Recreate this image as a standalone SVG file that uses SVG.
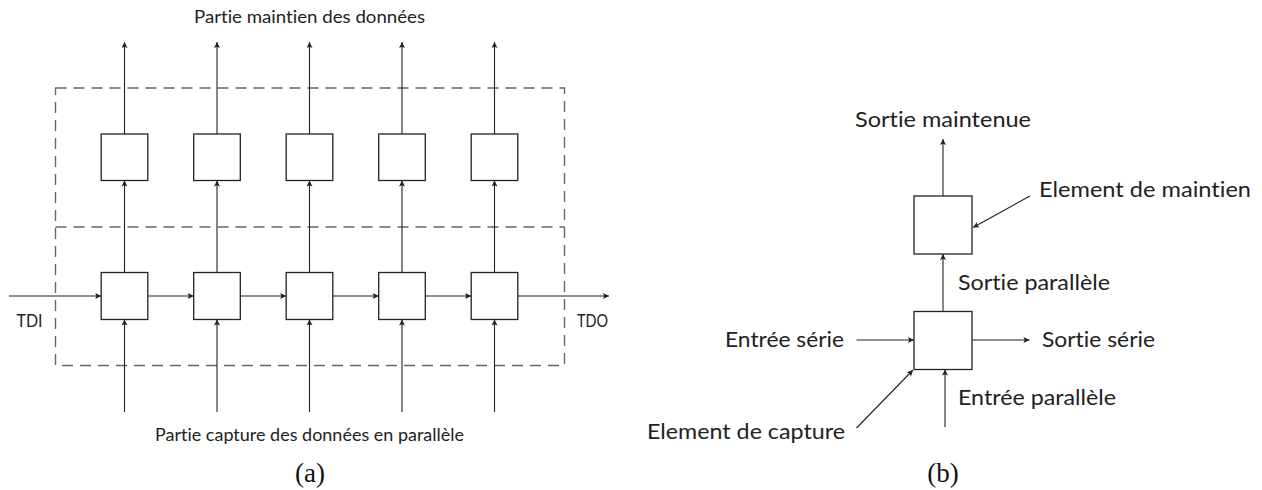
<svg xmlns="http://www.w3.org/2000/svg" width="1262" height="490" viewBox="0 0 1262 490">
<defs>
<marker id="ah" viewBox="0 0 10 10" refX="10" refY="5" markerWidth="7" markerHeight="6" markerUnits="userSpaceOnUse" orient="auto">
<path d="M0,0 L10,5 L0,10 L2,5 z" fill="#222"/>
</marker>
<style>
.box{fill:#fff;stroke:#222;stroke-width:1.3}
.ar{stroke:#222;stroke-width:1.1;fill:none;marker-end:url(#ah)}
.dash{stroke:#666;stroke-width:1.4;fill:none;stroke-dasharray:11,7}
.t{font-family:Lato,"Noto Sans","Liberation Sans",sans-serif;fill:#222;font-variant-ligatures:none;font-feature-settings:"liga" 0,"dlig" 0}
.s{font-size:17px}
.m{font-size:20.5px}
.cap{font-family:"Liberation Serif",serif;font-size:27px;font-weight:normal;fill:#111}
</style>
</defs>
<rect width="1262" height="490" fill="#fff"/>

<g id="frame-a">
<rect class="dash" x="55.5" y="88" width="509" height="277.5"/>
<line class="dash" x1="55.5" y1="227" x2="564.5" y2="227"/>
</g>

<g id="connectors">
<line class="ar" x1="124.5" y1="134" x2="124.5" y2="42"/>
<line class="ar" x1="217" y1="134" x2="217" y2="42"/>
<line class="ar" x1="309.5" y1="134" x2="309.5" y2="42"/>
<line class="ar" x1="402" y1="134" x2="402" y2="42"/>
<line class="ar" x1="494.5" y1="134" x2="494.5" y2="42"/>
<line class="ar" x1="124.5" y1="272.5" x2="124.5" y2="180.5"/>
<line class="ar" x1="217" y1="272.5" x2="217" y2="180.5"/>
<line class="ar" x1="309.5" y1="272.5" x2="309.5" y2="180.5"/>
<line class="ar" x1="402" y1="272.5" x2="402" y2="180.5"/>
<line class="ar" x1="494.5" y1="272.5" x2="494.5" y2="180.5"/>
<line class="ar" x1="124.5" y1="412" x2="124.5" y2="319.5"/>
<line class="ar" x1="217" y1="412" x2="217" y2="319.5"/>
<line class="ar" x1="309.5" y1="412" x2="309.5" y2="319.5"/>
<line class="ar" x1="402" y1="412" x2="402" y2="319.5"/>
<line class="ar" x1="494.5" y1="412" x2="494.5" y2="319.5"/>
<line class="ar" x1="9" y1="296" x2="101.2" y2="296"/>
<line class="ar" x1="147.8" y1="296" x2="193.7" y2="296"/>
<line class="ar" x1="240.3" y1="296" x2="286.2" y2="296"/>
<line class="ar" x1="332.8" y1="296" x2="378.7" y2="296"/>
<line class="ar" x1="425.3" y1="296" x2="471.2" y2="296"/>
<line class="ar" x1="517.8" y1="296" x2="609" y2="296"/>
<line class="ar" x1="943" y1="196" x2="943" y2="139"/>
<line class="ar" x1="943" y1="311.5" x2="943" y2="254"/>
<line class="ar" x1="945" y1="427" x2="945" y2="369.5"/>
<line class="ar" x1="856.5" y1="340" x2="914" y2="340"/>
<line class="ar" x1="972" y1="340" x2="1029.5" y2="340"/>
<line class="ar" x1="1030" y1="196" x2="973" y2="227.5"/>
<line class="ar" x1="856.5" y1="428" x2="913" y2="370"/>
</g>

<g id="hold-1"><rect class="box" x="101.2" y="134" width="46.6" height="46.5"/></g>
<g id="hold-2"><rect class="box" x="193.7" y="134" width="46.6" height="46.5"/></g>
<g id="hold-3"><rect class="box" x="286.2" y="134" width="46.6" height="46.5"/></g>
<g id="hold-4"><rect class="box" x="378.7" y="134" width="46.6" height="46.5"/></g>
<g id="hold-5"><rect class="box" x="471.2" y="134" width="46.6" height="46.5"/></g>
<g id="cap-1"><rect class="box" x="101.2" y="272.5" width="46.6" height="47"/></g>
<g id="cap-2"><rect class="box" x="193.7" y="272.5" width="46.6" height="47"/></g>
<g id="cap-3"><rect class="box" x="286.2" y="272.5" width="46.6" height="47"/></g>
<g id="cap-4"><rect class="box" x="378.7" y="272.5" width="46.6" height="47"/></g>
<g id="cap-5"><rect class="box" x="471.2" y="272.5" width="46.6" height="47"/></g>

<g id="hold-b"><rect class="box" x="914" y="196" width="58" height="58"/></g>
<g id="cap-b"><rect class="box" x="914" y="311.5" width="58" height="58"/></g>

<g id="labels">
<text class="t s" x="194" y="23.3" textLength="231" lengthAdjust="spacingAndGlyphs">Partie maintien des données</text>
<text class="t s" x="155" y="441" textLength="309" lengthAdjust="spacingAndGlyphs">Partie capture des données en parallèle</text>
<text class="t s" x="16.5" y="327" textLength="26" lengthAdjust="spacingAndGlyphs">TDI</text>
<text class="t s" x="577" y="327" textLength="31" lengthAdjust="spacingAndGlyphs">TDO</text>
<text class="cap" x="310" y="482" text-anchor="middle">(a)</text>

<text class="t m" x="855" y="127.3" textLength="176" lengthAdjust="spacingAndGlyphs">Sortie maintenue</text>
<text class="t m" x="1039" y="196.5" textLength="212" lengthAdjust="spacingAndGlyphs">Element de maintien</text>
<text class="t m" x="958" y="289.5" textLength="152" lengthAdjust="spacingAndGlyphs">Sortie parallèle</text>
<text class="t m" x="725" y="347" textLength="119" lengthAdjust="spacingAndGlyphs">Entrée série</text>
<text class="t m" x="1042" y="347" textLength="113" lengthAdjust="spacingAndGlyphs">Sortie série</text>
<text class="t m" x="958" y="405" textLength="158" lengthAdjust="spacingAndGlyphs">Entrée parallèle</text>
<text class="t m" x="647" y="438.5" textLength="198" lengthAdjust="spacingAndGlyphs">Element de capture</text>
<text class="cap" x="943" y="482" text-anchor="middle">(b)</text>
</g>
</svg>
